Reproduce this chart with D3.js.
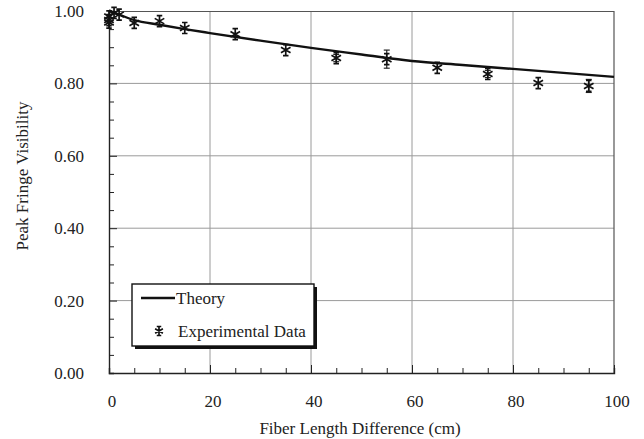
<!DOCTYPE html>
<html>
<head>
<meta charset="utf-8">
<script src="https://cdn.jsdelivr.net/npm/d3@7"></script>
<style>
  body { margin: 0; background: #fff; }
  svg text { font-family: "Liberation Serif", "DejaVu Serif", serif; fill: #222; }
</style>
</head>
<body>
<svg id="chart" width="644" height="439"></svg>
<script>
// theory curve
var theoryX = [0, 2, 5, 10, 15, 20, 30, 40, 50, 60, 70, 80, 90, 100];
var theoryY = [1.0, 0.99, 0.975, 0.962, 0.950, 0.939, 0.918, 0.898, 0.880, 0.862, 0.851, 0.840, 0.829, 0.818];

// experimental data
var expX = [0, 0, 0, 1, 2, 5, 10, 15, 25, 35, 45, 55, 65, 75, 85, 95];
var expY = [0.985, 0.975, 0.968, 0.995, 0.99, 0.967, 0.972, 0.953, 0.936, 0.892, 0.870, 0.867, 0.843, 0.826, 0.801, 0.793];
var expErr = [0, 0, 0, 0, 0, 0, 0, 0, 0, 0, 0.01, 0.025, 0, 0.01, 0, 0.018];

var xTicks = [0, 20, 40, 60, 80, 100];
var yTicks = [0, 0.2, 0.4, 0.6, 0.8, 1.0];

var margin = {top: 11, right: 30, bottom: 66, left: 109},
    width = 614 - margin.left,
    height = 373 - margin.top;

var svg = d3.select("#chart");
var g = svg.append("g")
    .attr("transform", "translate(" + margin.left + "," + margin.top + ")");

var x = d3.scaleLinear().domain([0, 100]).range([0, width]);
var y = d3.scaleLinear().domain([0, 1]).range([height, 0]);

// grid
g.selectAll("line.vgrid")
    .data(xTicks.slice(1, -1))
    .enter().append("line")
    .attr("x1", d => x(d)).attr("x2", d => x(d))
    .attr("y1", 0).attr("y2", height)
    .attr("stroke", "#9a9a9a").attr("stroke-width", 1);

g.selectAll("line.hgrid")
    .data(yTicks.slice(1, -1))
    .enter().append("line")
    .attr("x1", 0).attr("x2", width)
    .attr("y1", d => y(d)).attr("y2", d => y(d))
    .attr("stroke", "#9a9a9a").attr("stroke-width", 1);

// frame: top and right
g.append("path")
    .attr("d", "M0,0.5H" + width + "V" + height)
    .attr("fill", "none").attr("stroke", "#555").attr("stroke-width", 1.2);

// axes with inward ticks
var xAxis = g.append("g")
    .attr("transform", "translate(0," + height + ")")
    .call(d3.axisBottom(x).tickValues(d3.range(0, 101, 5)).tickSize(-5).tickFormat(""));
var yAxis = g.append("g")
    .call(d3.axisLeft(y).tickValues(d3.range(0, 1.001, 0.05)).tickSize(-5).tickFormat(""));
[xAxis, yAxis].forEach(function(a) {
    a.select(".domain").attr("stroke", "#222").attr("stroke-width", 1.4);
    a.selectAll(".tick line").attr("stroke", "#222");
});
// longer ticks at the majors
yAxis.selectAll(".tick line").filter(d => Math.abs(d * 5 - Math.round(d * 5)) < 1e-6).attr("x2", 8);
xAxis.selectAll(".tick line").filter(d => d % 20 === 0).attr("y2", -8);

// tick labels
g.selectAll("text.xl")
    .data(xTicks)
    .enter().append("text")
    .attr("x", d => x(d) + 3)
    .attr("y", height + 34)
    .attr("text-anchor", "middle")
    .attr("font-size", "17px")
    .text(d => d);

g.selectAll("text.yl")
    .data(yTicks)
    .enter().append("text")
    .attr("x", -25)
    .attr("y", d => y(d) + 6)
    .attr("text-anchor", "end")
    .attr("font-size", "17px")
    .text(d => d.toFixed(2));

// axis titles
svg.append("text")
    .attr("x", 360).attr("y", 434)
    .attr("text-anchor", "middle")
    .attr("font-size", "17px")
    .text("Fiber Length Difference (cm)");

svg.append("text")
    .attr("transform", "translate(28,176) rotate(-90)")
    .attr("text-anchor", "middle")
    .attr("font-size", "17px")
    .text("Peak Fringe Visibility");

// theory line
var line = d3.line()
    .x(d => x(d[0]))
    .y(d => y(d[1]))
    .curve(d3.curveMonotoneX);

g.append("path")
    .datum(theoryX.map((v, i) => [v, theoryY[i]]))
    .attr("d", line)
    .attr("fill", "none")
    .attr("stroke", "#111")
    .attr("stroke-width", 2.4);

// star marker
function star(s) {
    return "M0," + (-s) + "V" + s +
        "M" + (-s * 0.87) + "," + (-s * 0.5) + "L" + (s * 0.87) + "," + (s * 0.5) +
        "M" + (-s * 0.87) + "," + (s * 0.5) + "L" + (s * 0.87) + "," + (-s * 0.5) +
        "M" + (-s * 0.5) + "," + (-s) + "H" + (s * 0.5) +
        "M" + (-s * 0.5) + "," + s + "H" + (s * 0.5);
}

var pts = expX.map((v, i) => ({x: v, y: expY[i], e: expErr[i]}));

// error bars
var eb = g.selectAll("g.err")
    .data(pts.filter(d => d.e > 0))
    .enter().append("g")
    .attr("stroke", "#222").attr("stroke-width", 1.2);
eb.append("line")
    .attr("x1", d => x(d.x)).attr("x2", d => x(d.x))
    .attr("y1", d => y(d.y + d.e)).attr("y2", d => y(d.y - d.e));
eb.append("line")
    .attr("x1", d => x(d.x) - 3).attr("x2", d => x(d.x) + 3)
    .attr("y1", d => y(d.y + d.e)).attr("y2", d => y(d.y + d.e));
eb.append("line")
    .attr("x1", d => x(d.x) - 3).attr("x2", d => x(d.x) + 3)
    .attr("y1", d => y(d.y - d.e)).attr("y2", d => y(d.y - d.e));

g.selectAll("path.star")
    .data(pts)
    .enter().append("path")
    .attr("class", "star")
    .attr("transform", d => "translate(" + x(d.x) + "," + y(d.y) + ")")
    .attr("d", star(5.5))
    .attr("fill", "none")
    .attr("stroke", "#111")
    .attr("stroke-width", 1.7);

// legend
var lg = svg.append("g").attr("transform", "translate(132,284)");
lg.append("rect")
    .attr("x", 3).attr("y", 3).attr("width", 182).attr("height", 62)
    .attr("fill", "#111");
lg.append("rect")
    .attr("x", 0).attr("y", 0).attr("width", 182).attr("height", 62)
    .attr("fill", "#fff").attr("stroke", "#111").attr("stroke-width", 1.4);
lg.append("line")
    .attr("x1", 9).attr("x2", 43).attr("y1", 14).attr("y2", 14)
    .attr("stroke", "#111").attr("stroke-width", 2.4);
lg.append("text")
    .attr("x", 44).attr("y", 20)
    .attr("font-size", "17px")
    .text("Theory");
lg.append("path")
    .attr("transform", "translate(27,47)")
    .attr("d", star(4.5))
    .attr("fill", "none").attr("stroke", "#111").attr("stroke-width", 1.7);
lg.append("text")
    .attr("x", 46).attr("y", 53)
    .attr("font-size", "17px")
    .text("Experimental Data");
</script>
</body>
</html>
